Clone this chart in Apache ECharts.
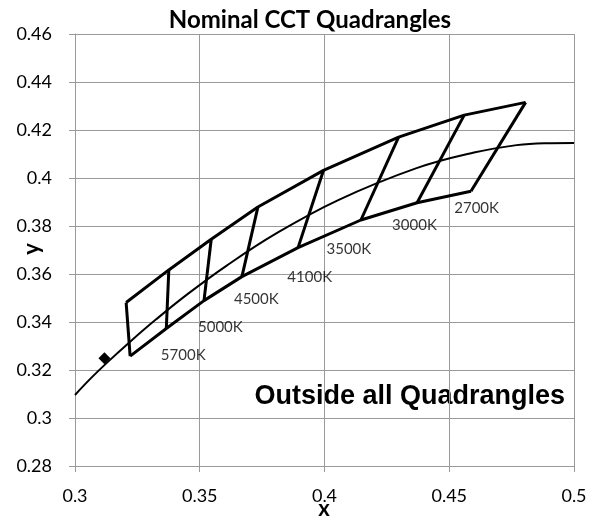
<!DOCTYPE html>
<html><head><meta charset="utf-8">
<script src="https://cdn.jsdelivr.net/npm/echarts@6/dist/echarts.min.js"></script>
<style>html,body{margin:0;padding:0;background:#fff}#c{width:592px;height:516px}</style>
</head><body><div id="c"></div>
<script>
// Planckian locus
const locusX = [0.300, 0.3064, 0.3135, 0.3221, 0.3324, 0.3451, 0.3608, 0.3805, 0.4053, 0.4369, 0.4599, 0.4770, 0.4880, 0.5000];
const locusY = [0.3096, 0.3166, 0.3237, 0.3318, 0.3410, 0.3516, 0.3635, 0.3768, 0.3907, 0.4041, 0.4106, 0.4137, 0.4145, 0.4146];
// Quadrangle vertices: top edge and bottom edge, left to right
const topX = [0.3205, 0.3376, 0.3546, 0.3733, 0.3996, 0.4297, 0.4560, 0.4806];
const topY = [0.3481, 0.3617, 0.3745, 0.3879, 0.4032, 0.4170, 0.4262, 0.4315];
const botX = [0.3221, 0.3366, 0.3517, 0.3669, 0.3894, 0.4146, 0.4371, 0.4587];
const botY = [0.3258, 0.3373, 0.3489, 0.3589, 0.3710, 0.3825, 0.3897, 0.3945];
// CCT labels
const cctNames = ['5700K', '5000K', '4500K', '4100K', '3500K', '3000K', '2700K'];
const cctLabelX = [0.3342, 0.3491, 0.3635, 0.3849, 0.4006, 0.4269, 0.4518];
const cctLabelY = [0.3263, 0.3378, 0.3496, 0.3585, 0.3703, 0.3804, 0.3874];
// measured point
const pointX = [0.3118];
const pointY = [0.3249];
// axes
const xMin = 0.3, xMax = 0.5, xStep = 0.05;
const yMin = 0.28, yMax = 0.46, yStep = 0.02;

const grey = '#9a9a9a';
const zip = (a, b) => a.map((v, i) => [v, b[i]]);
const quadStyle = { color: '#000', width: 3 };
const series = [
  { type: 'line', data: zip(locusX, locusY), smooth: 0.4, showSymbol: false, lineStyle: { color: '#000', width: 2 }, z: 3 },
  { type: 'line', data: zip(topX, topY), showSymbol: false, lineStyle: quadStyle, z: 4 },
  { type: 'line', data: zip(botX, botY), showSymbol: false, lineStyle: quadStyle, z: 4 }
];
topX.forEach((v, i) => {
  series.push({ type: 'line', data: [[topX[i], topY[i]], [botX[i], botY[i]]], showSymbol: false, lineStyle: quadStyle, z: 4 });
});
series.push({
  type: 'scatter', symbolSize: 1, itemStyle: { color: 'rgba(0,0,0,0)' },
  data: cctNames.map((n, i) => ({ name: n, value: [cctLabelX[i], cctLabelY[i]] })),
  label: { show: true, position: 'right', distance: 0, formatter: p => p.name, color: '#000', fontFamily: 'Lato', fontSize: 15 }, z: 5
});
series.push({ type: 'scatter', symbol: 'diamond', symbolSize: [12, 12], data: zip(pointX, pointY), itemStyle: { color: '#000', opacity: 1 }, z: 6 });

const axisCommon = {
  axisLine: { show: true, lineStyle: { color: grey, width: 1 } },
  axisTick: { show: true, inside: false, length: 6, lineStyle: { color: grey } },
  splitLine: { show: true, lineStyle: { color: grey, width: 1 } },
  axisLabel: { color: '#000', fontFamily: 'Lato', fontSize: 18 }
};
const chart = echarts.init(document.getElementById('c'));
chart.setOption({
  animation: false,
  backgroundColor: '#fff',
  grid: { left: 75, top: 34, width: 499, height: 432 },
  xAxis: Object.assign({ type: 'value', min: xMin, max: xMax, interval: xStep }, axisCommon,
    { axisLabel: Object.assign({}, axisCommon.axisLabel, { margin: 21 }) }),
  yAxis: Object.assign({ type: 'value', min: yMin, max: yMax, interval: yStep }, axisCommon,
    { axisLabel: Object.assign({}, axisCommon.axisLabel, { margin: 23 }) }),
  graphic: [
    { type: 'text', x: 310, y: 20, style: { text: 'Nominal CCT Quadrangles', fontFamily: 'Lato', fontWeight: 'bold', fontSize: 24, fill: '#000', textAlign: 'center', textVerticalAlign: 'middle' } },
    { type: 'text', x: 565, y: 397, style: { text: 'Outside all Quadrangles', fontFamily: 'Liberation Sans', fontWeight: 'bold', fontSize: 27, fill: '#000', textAlign: 'right', textVerticalAlign: 'middle' } },
    { type: 'text', x: 324, y: 509, style: { text: 'x', fontFamily: 'Lato', fontWeight: 'bold', fontSize: 22, fill: '#000', textAlign: 'center', textVerticalAlign: 'middle' } },
    { type: 'text', x: 32, y: 249, rotation: Math.PI / 2, style: { text: 'y', fontFamily: 'Lato', fontWeight: 'bold', fontSize: 22, fill: '#000', textAlign: 'center', textVerticalAlign: 'middle' } }
  ],
  series: series
});
</script></body></html>
